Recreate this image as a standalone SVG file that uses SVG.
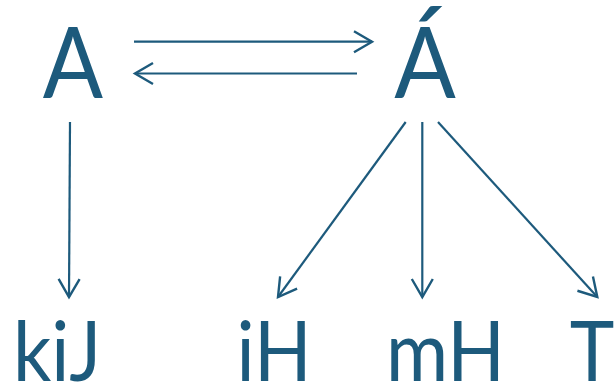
<svg xmlns="http://www.w3.org/2000/svg" width="616" height="385" viewBox="0 0 616 385">
<style>
.t{font-family:Lato,"Open Sans",sans-serif;fill:#1d5a7c;text-anchor:middle}
.big{font-size:99px}
.small{font-size:83px}
.c{stroke:#1d5a7c;stroke-width:2.2;fill:none;marker-end:url(#ah)}
</style>
<defs>
<marker id="ah" markerUnits="userSpaceOnUse" markerWidth="24" markerHeight="26" viewBox="-20 -12 24 24" refX="0" refY="0" orient="auto">
<path d="M-18,-10.5 L0,0 L-18,10.5" fill="none" stroke="#1d5a7c" stroke-width="2.4"/>
</marker>
</defs>
<rect width="616" height="385" fill="#fff"/>
<g id="nA" transform="translate(73,0) scale(0.9,1)"><text class="t big" x="0" y="98">A</text></g>
<g id="nAacute" transform="translate(425,0) scale(0.92,1)"><text class="t big" x="0" y="98">Á</text></g>
<g id="nkiJ" transform="translate(57,0) scale(0.91,1)"><text class="t small" x="0" y="381">kiJ</text></g>
<g id="niH" transform="translate(274,0) scale(0.91,1)"><text class="t small" x="0" y="381">iH</text></g>
<g id="nmH" transform="translate(445.5,0) scale(0.91,1)"><text class="t small" x="0" y="381">mH</text></g>
<g id="nT" transform="translate(592,0) scale(0.91,1)"><text class="t small" x="0" y="381">T</text></g>
<g id="connectors">
<line class="c" x1="134" y1="41.7" x2="372" y2="41.7"/>
<line class="c" x1="357" y1="73.5" x2="135" y2="73.5"/>
<line class="c" x1="70" y1="122" x2="69" y2="297"/>
<line class="c" x1="405.7" y1="122" x2="278" y2="297"/>
<line class="c" x1="422.3" y1="122" x2="422.3" y2="297"/>
<line class="c" x1="438" y1="122" x2="597.3" y2="297"/>
</g>
</svg>
